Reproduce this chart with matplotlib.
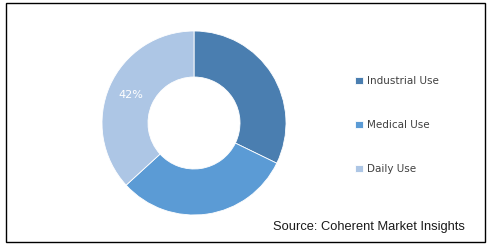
import numpy as np
import matplotlib.pyplot as plt
from matplotlib.patches import Rectangle

# segment shares
segments = ['Industrial Use', 'Medical Use', 'Daily Use']
shares = [32.2, 31.0, 36.8]
shown_labels = ['', '', '42%']
colors = ['#4a7eb0', '#5b9bd5', '#adc6e5']

fig = plt.figure(figsize=(4.89, 2.45), dpi=100)
fig.patch.set_facecolor('white')

# outer frame
fig.patches.append(Rectangle((6 / 489, 3 / 245), 479 / 489, 239 / 245,
                             transform=fig.transFigure, fill=False,
                             edgecolor='black', linewidth=1.0))

ax = fig.add_axes([102 / 489, 30 / 245, 184 / 489, 184 / 245])
wedges, _ = ax.pie(shares, colors=colors, startangle=90, counterclock=False,
                   radius=1.0,
                   wedgeprops=dict(width=0.5, edgecolor='white', linewidth=0.6))
ax.set_xlim(-1, 1)
ax.set_ylim(-1, 1)
ax.set_aspect('equal')
ax.axis('off')

# value labels in the middle of the ring
for w, lab in zip(wedges, shown_labels):
    mid = np.deg2rad((w.theta1 + w.theta2) / 2)
    if lab:
        ax.text(0.75 * np.cos(mid), 0.75 * np.sin(mid), lab, ha='center',
                va='center', color='white', fontsize=8,
                family='DejaVu Sans')

fig.legend(wedges, segments, loc='center left',
           bbox_to_anchor=(346 / 489, 1 - 125 / 245), frameon=False,
           prop={'family': 'DejaVu Sans', 'size': 7.5}, labelcolor='#404040',
           handlelength=0.7, handleheight=0.7, handletextpad=0.4,
           labelspacing=3.25)

fig.text(465 / 489, 1 - 227 / 245, 'Source: Coherent Market Insights',
         ha='right', va='center', fontsize=9.3, family='Liberation Sans',
         color='#1a1a1a')

fig.savefig('out.png', dpi=100)
